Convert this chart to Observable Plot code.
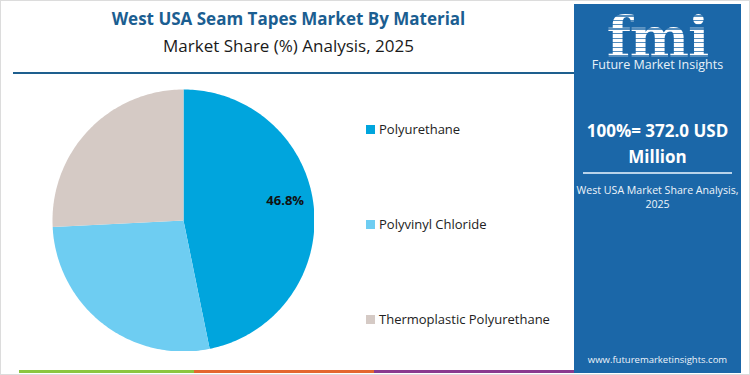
<!DOCTYPE html>
<html>
<head>
<meta charset="utf-8">
<script src="https://cdn.jsdelivr.net/npm/d3@7"></script>
<script src="https://cdn.jsdelivr.net/npm/@observablehq/plot@0.6"></script>
<style>
  html, body { margin: 0; padding: 0; background: #fff; }
  body { width: 750px; height: 375px; overflow: hidden; font-family: "Open Sans", "Noto Sans", sans-serif; }
  #wrap { position: relative; width: 750px; height: 375px; box-sizing: border-box; border: 1px solid #dcdcdc; background: #fff; }
  .abs { position: absolute; }
  #title { left: 0; width: 575px; top: 6px; text-align: center; font-size: 17px; font-weight: 700; color: #1b5e91; }
  #subtitle { left: 0; width: 575px; top: 33px; text-align: center; font-size: 17px; color: #1a1a1a; }
  #rule { left: 12px; top: 71px; width: 563px; height: 2px; background: #1e5f8e; }
  #pie { left: 51px; top: 88px; }
  .leg { position: absolute; left: 365px; font-size: 13px; color: #222; display: flex; align-items: center; white-space: nowrap; }
  .leg i { display: inline-block; width: 9px; height: 9px; margin-right: 4px; }
  #panel { left: 573px; top: 3px; width: 167px; height: 369px; background: #1b67a8; color: #fff; text-align: center; overflow: hidden; }
  #logo { position: absolute; left: 0; width: 167px; top: 15px; line-height: 36px; font-family: "DejaVu Serif", serif; font-weight: 700; font-size: 56px; letter-spacing: -1px; color: #fff; }
  #stripes { position: absolute; left: 20px; width: 127px; top: 8px; height: 46px;
             background: repeating-linear-gradient(180deg, rgba(27,103,168,0) 0 3px, rgba(27,103,168,0.75) 3px 4.5px); }
  #fminame { position: absolute; left: 0; width: 167px; top: 52px; font-size: 12.5px; color: #e8f1f8; white-space: nowrap; }
  #total { position: absolute; left: 0; width: 167px; top: 114px; font-size: 17px; font-weight: 700; line-height: 26px; white-space: nowrap; }
  #prule { position: absolute; left: 9px; top: 168px; width: 149px; height: 1.5px; background: #b8d3ea; }
  #psub { position: absolute; left: 0; width: 167px; top: 179px; font-size: 10.6px; line-height: 14px; color: #eef4fa; white-space: nowrap; }
  #url { position: absolute; left: 0; width: 167px; top: 349px; font-size: 9.5px; color: #eef4fa; }
  .strip { position: absolute; top: 369px; height: 3px; }
</style>
</head>
<body>
<div id="wrap">
  <div id="title" class="abs"></div>
  <div id="subtitle" class="abs"></div>
  <div id="rule" class="abs"></div>
  <div id="pie" class="abs"></div>
  <div id="legend"></div>
  <div id="panel" class="abs">
    <div id="logo">fmi</div>
    <div id="stripes"></div>
    <div id="fminame">Future Market Insights</div>
    <div id="total"></div>
    <div id="prule"></div>
    <div id="psub"></div>
    <div id="url">www.futuremarketinsights.com</div>
  </div>
  <div class="strip" style="left:18px;width:175px;background:#8cc63f"></div>
  <div class="strip" style="left:193px;width:180px;background:#e4672e"></div>
  <div class="strip" style="left:373px;width:200px;background:#8a3a8f"></div>
</div>
<script>
// ---- data ----
const titleText = "West USA Seam Tapes Market By Material";
const subtitleText = "Market Share (%) Analysis, 2025";
const categories = ["Polyurethane", "Polyvinyl Chloride", "Thermoplastic Polyurethane"];
const shares = [46.8, 27.4, 25.8];
const colors = ["#00a5dd", "#6ecdf2", "#d5cac5"];
const labeled = [true, false, false];
const totalText = ["100%= 372.0 USD", "Million"];
const panelSub = ["West USA Market Share Analysis,", "2025"];
const legendTops = [128, 223, 318];

// ---- text ----
document.getElementById("title").textContent = titleText;
document.getElementById("subtitle").textContent = subtitleText;
document.getElementById("total").innerHTML = totalText.join("<br>");
document.getElementById("psub").innerHTML = panelSub.join("<br>");

// ---- legend ----
const legend = document.getElementById("legend");
categories.forEach((c, i) => {
  const d = document.createElement("div");
  d.className = "leg";
  d.style.top = (legendTops[i] - 9) + "px";
  d.innerHTML = `<i style="background:${colors[i]}"></i><span></span>`;
  d.querySelector("span").textContent = c;
  legend.appendChild(d);
});

// ---- pie geometry from data ----
const total = d3.sum(shares);
const rad = (deg) => deg * Math.PI / 180;
const pt = (deg) => [Math.sin(rad(deg)), -Math.cos(rad(deg))];
let acc = 0;
const slices = categories.map((c, i) => {
  const a0 = acc / total * 360;
  acc += shares[i];
  const a1 = acc / total * 360;
  const ring = [[0, 0]];
  const n = Math.max(2, Math.ceil(a1 - a0));
  for (let k = 0; k <= n; k++) ring.push(pt(a0 + (a1 - a0) * k / n));
  ring.push([0, 0]);
  return {
    type: "Feature",
    properties: {name: c, share: shares[i], mid: (a0 + a1) / 2, labeled: labeled[i]},
    geometry: {type: "Polygon", coordinates: [ring]}
  };
});
const circleRing = d3.range(0, 361, 2).map(pt);
const circle = {type: "Feature", properties: {}, geometry: {type: "Polygon", coordinates: [circleRing]}};

const labels = slices.filter(s => s.properties.labeled).map(s => {
  const [x, y] = pt(s.properties.mid - 5);
  return {x: x * 0.79, y: y * 0.79, text: s.properties.share.toFixed(1) + "%"};
});

const chart = Plot.plot({
  width: 262,
  height: 262,
  margin: 0,
  projection: {type: "identity", domain: circle},
  color: {domain: categories, range: colors},
  marks: [
    Plot.geo(slices, {fill: d => d.properties.name}),
    Plot.text(labels, {x: "x", y: "y", text: "text", fontSize: 13, fontWeight: 700, fill: "#111", fontFamily: "Open Sans, sans-serif"})
  ]
});
document.getElementById("pie").appendChild(chart);
</script>
</body>
</html>
